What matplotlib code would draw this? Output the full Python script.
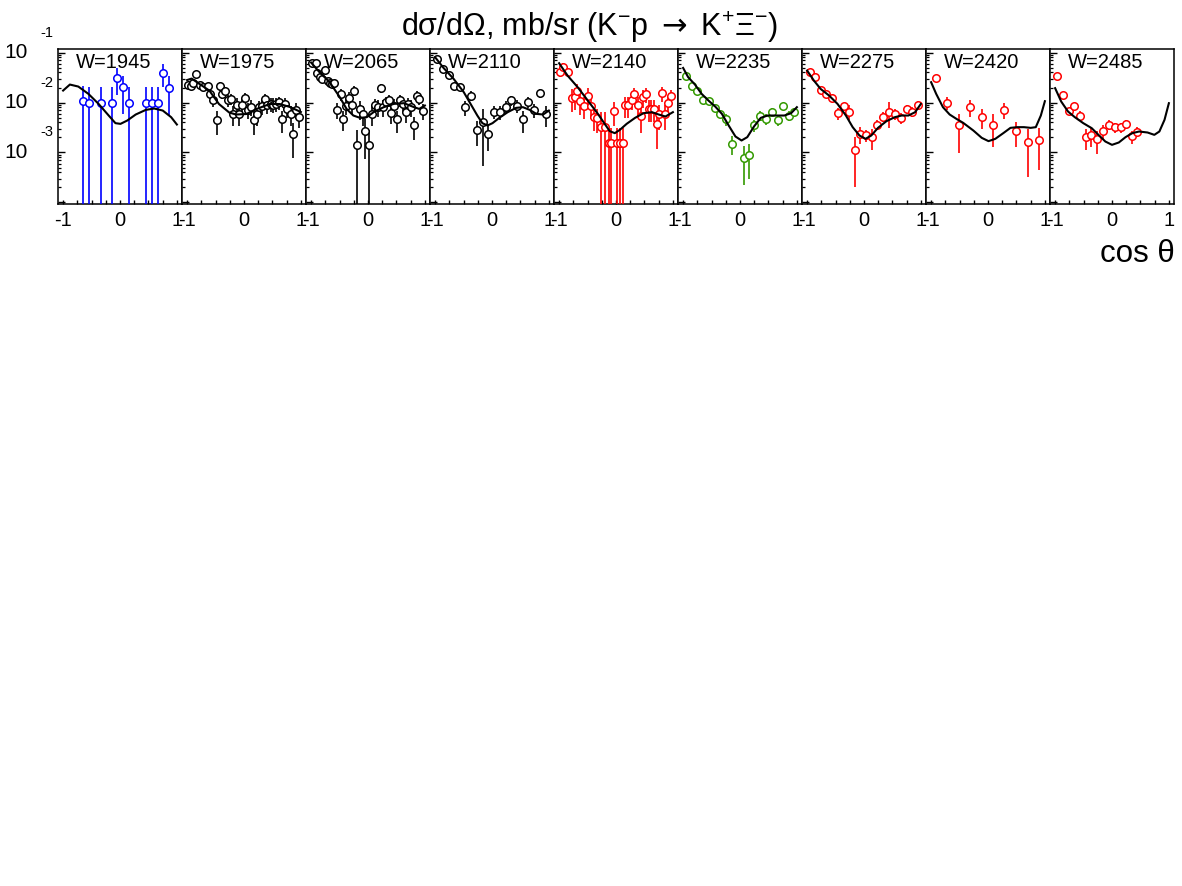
import numpy as np
import matplotlib
matplotlib.use("Agg")
import matplotlib.pyplot as plt
from matplotlib.transforms import offset_copy
from matplotlib.ticker import FixedLocator, LogLocator, NullFormatter

plt.rcParams['font.family'] = ['Liberation Sans', 'DejaVu Sans']
plt.rcParams['mathtext.fontset'] = 'custom'
plt.rcParams['mathtext.rm'] = 'Liberation Sans'
plt.rcParams['mathtext.it'] = 'Liberation Sans:italic'
plt.rcParams['mathtext.bf'] = 'Liberation Sans:bold'
plt.rcParams['mathtext.sf'] = 'DejaVu Sans'

# ---------------- data ----------------
w_labels = ['W=1945', 'W=1975', 'W=2065', 'W=2110', 'W=2140',
            'W=2235', 'W=2275', 'W=2420', 'W=2485']
colors = ['#0000ff', 'black', 'black', 'black', '#ff0000',
          '#339900', '#ff0000', '#ff0000', '#ff0000']

cos1 = [-0.65, -0.54, -0.335, -0.139, -0.045, 0.06, 0.16, 0.45, 0.56, 0.665, 0.76, 0.86]
val1 = [0.0105, 0.01, 0.01, 0.01, 0.0316, 0.0203, 0.01, 0.01, 0.01, 0.01, 0.0398, 0.0197]
err1 = [0.0106, 0.0102, 0.0102, 0.0102, 0.0175, 0.0144, 0.0102, 0.0102, 0.0102, 0.0102, 0.0195, 0.014]

cos2 = [-0.98, -0.94, -0.90, -0.84, -0.78, -0.72, -0.64, -0.60, -0.54, -0.48, -0.42, -0.38, -0.33,
        -0.28, -0.23, -0.19, -0.13, -0.08, -0.03, 0.02, 0.07, 0.12, 0.17, 0.22, 0.26, 0.32, 0.37,
        0.41, 0.47, 0.51, 0.57, 0.61, 0.67, 0.72, 0.76, 0.82, 0.87, 0.92, 0.97]
val2 = [0.0229, 0.0216, 0.0244, 0.0374, 0.0222, 0.0209, 0.0219, 0.0149, 0.0113, 0.0045, 0.0212,
        0.0149, 0.0169, 0.011, 0.0118, 0.0059, 0.0091, 0.0059, 0.009, 0.0122, 0.0071, 0.0083,
        0.0045, 0.0059, 0.0081, 0.0087, 0.0118, 0.009, 0.0094, 0.0091, 0.0094, 0.0102, 0.0047,
        0.0094, 0.0075, 0.0059, 0.00236, 0.0072, 0.0051]
err2 = [0.003, 0.003, 0.003, 0.005, 0.003, 0.003, 0.003, 0.003, 0.003, 0.0023, 0.004, 0.003, 0.003,
        0.003, 0.003, 0.0025, 0.003, 0.0025, 0.003, 0.003, 0.0025, 0.003, 0.0023, 0.0025, 0.0025,
        0.003, 0.003, 0.003, 0.003, 0.003, 0.003, 0.003, 0.0022, 0.003, 0.0025, 0.0025, 0.0016,
        0.0025, 0.002]

cos3 = [-0.98, -0.92, -0.90, -0.85, -0.80, -0.75, -0.71, -0.67, -0.63, -0.59, -0.54, -0.48, -0.44,
        -0.38, -0.33, -0.29, -0.25, -0.19, -0.14, -0.09, -0.045, 0.01, 0.07, 0.12, 0.17, 0.22, 0.26,
        0.31, 0.37, 0.41, 0.46, 0.51, 0.56, 0.61, 0.66, 0.71, 0.76, 0.81, 0.86, 0.90, 0.96]
val3 = [0.0621, 0.0621, 0.0386, 0.0321, 0.0297, 0.045, 0.0275, 0.0244, 0.0236, 0.0244, 0.0071,
        0.0149, 0.0047, 0.0087, 0.0122, 0.009, 0.0174, 0.00138, 0.0075, 0.0059, 0.00275, 0.00138,
        0.0059, 0.009, 0.0081, 0.0197, 0.0081, 0.0102, 0.011, 0.0062, 0.0087, 0.0047, 0.0113,
        0.0094, 0.0064, 0.0094, 0.0081, 0.00347, 0.0138, 0.0118, 0.0069]
err3 = [0.005, 0.005, 0.004, 0.004, 0.004, 0.006, 0.004, 0.004, 0.004, 0.004, 0.0025, 0.004, 0.002,
        0.003, 0.004, 0.003, 0.004, 0.0015, 0.003, 0.0025, 0.002, 0.0015, 0.0025, 0.003, 0.003,
        0.004, 0.003, 0.003, 0.003, 0.0025, 0.003, 0.0022, 0.003, 0.003, 0.0025, 0.003, 0.003,
        0.0017, 0.003, 0.003, 0.0025]

cos4 = [-0.97, -0.864, -0.763, -0.662, -0.567, -0.466, -0.365, -0.258, -0.157, -0.062, 0.039,
        0.145, 0.246, 0.335, 0.442, 0.543, 0.632, 0.739, 0.846, 0.941]
val4 = [0.0747, 0.0471, 0.0357, 0.0219, 0.0209, 0.0081, 0.0138, 0.00284, 0.00404, 0.00236, 0.0066,
        0.0064, 0.0083, 0.011, 0.0086, 0.0046, 0.0102, 0.0071, 0.0154, 0.0058]
err4 = [0.005, 0.004, 0.003, 0.003, 0.003, 0.0028, 0.003, 0.0015, 0.0035, 0.0013, 0.002, 0.002,
        0.0022, 0.0025, 0.0025, 0.0022, 0.0025, 0.0022, 0.003, 0.0026]

cos5 = [-0.99, -0.93, -0.84, -0.78, -0.72, -0.685, -0.626, -0.567, -0.484, -0.436, -0.389, -0.33,
        -0.27, -0.2, -0.128, -0.08, -0.039, 0.015, 0.068, 0.116, 0.157, 0.217, 0.276, 0.323, 0.383,
        0.442, 0.466, 0.525, 0.573, 0.62, 0.668, 0.72, 0.763, 0.81, 0.869, 0.917, 0.97]
val5 = [0.0404, 0.0525, 0.041, 0.0124, 0.0132, 0.0174, 0.0106, 0.0087, 0.0138, 0.0087, 0.0052,
        0.0049, 0.00321, 0.00321, 0.00156, 0.00156, 0.0069, 0.00156, 0.00156, 0.00156, 0.009,
        0.009, 0.011, 0.0149, 0.009, 0.0055, 0.0128, 0.0149, 0.0075, 0.0075, 0.0075, 0.0037,
        0.0058, 0.0154, 0.0058, 0.0097, 0.0138]
err5 = [0.008, 0.008, 0.008, 0.006, 0.006, 0.006, 0.005, 0.004, 0.006, 0.004, 0.0025, 0.0025,
        0.0033, 0.0033, 0.0016, 0.0016, 0.0035, 0.0016, 0.0016, 0.0016, 0.004, 0.004, 0.004,
        0.005, 0.004, 0.003, 0.005, 0.005, 0.0035, 0.0035, 0.0035, 0.0025, 0.003, 0.005, 0.003,
        0.004, 0.004]

cos6 = [-0.958, -0.852, -0.751, -0.644, -0.543, -0.448, -0.347, -0.246, -0.139, 0.068, 0.157,
        0.246, 0.353, 0.454, 0.56, 0.662, 0.763, 0.858, 0.958]
val6 = [0.0347, 0.0219, 0.0174, 0.0115, 0.0106, 0.0078, 0.0059, 0.0046, 0.00149, 0.00077, 0.0009,
        0.00347, 0.0055, 0.0047, 0.0066, 0.0045, 0.0085, 0.0055, 0.0064]
err6 = [0.003, 0.002, 0.0015, 0.001, 0.0012, 0.001, 0.001, 0.0012, 0.0006, 0.00055, 0.0006, 0.0009,
        0.0012, 0.0011, 0.0013, 0.0011, 0.0012, 0.0013, 0.0012]

cos7 = [-0.958, -0.864, -0.763, -0.662, -0.555, -0.454, -0.359, -0.258, -0.157, -0.062, 0.039,
        0.145, 0.234, 0.335, 0.442, 0.543, 0.644, 0.751, 0.852, 0.941]
val7 = [0.0404, 0.0321, 0.0179, 0.0149, 0.0124, 0.0061, 0.0085, 0.0066, 0.0011, 0.00236, 0.00219,
        0.00203, 0.00357, 0.0052, 0.0066, 0.0059, 0.0049, 0.0075, 0.0066, 0.009]
err7 = [0.003, 0.003, 0.002, 0.002, 0.002, 0.0016, 0.0015, 0.0022, 0.0009, 0.0009, 0.0006, 0.0009,
        0.0008, 0.0012, 0.0035, 0.0015, 0.0012, 0.0015, 0.0015, 0.0015]

cos8 = [-0.911, -0.715, -0.513, -0.312, -0.11, 0.092, 0.288, 0.496, 0.697, 0.899]
val8 = [0.0311, 0.01, 0.00347, 0.0081, 0.0052, 0.00357, 0.0072, 0.00267, 0.00163, 0.00174]
err8 = [0.002, 0.003, 0.0025, 0.003, 0.0023, 0.0023, 0.0025, 0.0014, 0.0013, 0.0013]

cos9 = [-0.964, -0.862, -0.761, -0.666, -0.564, -0.464, -0.368, -0.255, -0.161, -0.059, 0.048,
        0.15, 0.25, 0.346, 0.446]
val9 = [0.0347, 0.0143, 0.0069, 0.0087, 0.0055, 0.002, 0.0022, 0.00185, 0.0027, 0.00357, 0.00321,
        0.00321, 0.0037, 0.0021, 0.00263]
err9 = [0.002, 0.0015, 0.001, 0.0012, 0.0012, 0.0009, 0.0009, 0.0009, 0.0008, 0.0008, 0.0007,
        0.0007, 0.0008, 0.0006, 0.0006]

# model curves: cos(theta) and log10(dsigma/dOmega)
fit1_x = [-1.0, -0.881, -0.733, -0.555, -0.377, -0.199, -0.08, 0.009, 0.128, 0.276, 0.454, 0.602, 0.751, 0.899, 1.0]
fit1_lg = [-1.76, -1.64, -1.68, -1.827, -2.027, -2.26, -2.413, -2.427, -2.36, -2.24, -2.147, -2.12, -2.16, -2.293, -2.44]
fit2_x = [-1.0, -0.92, -0.78, -0.61, -0.44, -0.26, -0.14, 0.04, 0.22, 0.45, 0.63, 0.81, 1.0]
fit2_lg = [-1.55, -1.52, -1.63, -1.76, -2.03, -2.2, -2.24, -2.23, -2.13, -2.03, -2.03, -2.09, -2.19]
fit3_x = [-1.0, -0.852, -0.674, -0.496, -0.377, -0.258, -0.139, -0.021, 0.098, 0.276, 0.454, 0.632, 0.81, 0.9, 1.0]
fit3_lg = [-1.2, -1.393, -1.593, -1.893, -2.127, -2.26, -2.307, -2.293, -2.193, -2.093, -2.027, -2.013, -2.093, -2.127, -2.06]
fit4_x = [-1.0, -0.852, -0.674, -0.496, -0.377, -0.258, -0.169, -0.08, 0.009, 0.128, 0.276, 0.424, 0.543, 0.662, 0.78, 0.899, 1.0]
fit4_lg = [-1.093, -1.307, -1.527, -1.793, -2.027, -2.26, -2.413, -2.46, -2.413, -2.307, -2.193, -2.107, -2.093, -2.147, -2.227, -2.24, -2.16]
fit5_x = [-1.0, -0.852, -0.674, -0.496, -0.318, -0.199, -0.11, -0.021, 0.068, 0.187, 0.335, 0.484, 0.632, 0.751, 0.869, 1.0]
fit5_lg = [-1.213, -1.46, -1.693, -1.96, -2.227, -2.427, -2.573, -2.613, -2.547, -2.427, -2.307, -2.213, -2.193, -2.24, -2.28, -2.193]
fit6_x = [-1.0, -0.911, -0.792, -0.674, -0.555, -0.436, -0.318, -0.199, -0.08, 0.027, 0.128, 0.246, 0.365, 0.484, 0.632, 0.78, 0.899, 1.0]
fit6_lg = [-1.307, -1.493, -1.64, -1.827, -1.96, -2.08, -2.227, -2.46, -2.68, -2.76, -2.693, -2.48, -2.307, -2.26, -2.26, -2.26, -2.213, -2.093]
fit7_x = [-1.0, -0.881, -0.763, -0.614, -0.466, -0.318, -0.199, -0.08, 0.027, 0.128, 0.246, 0.395, 0.543, 0.662, 0.78, 0.899, 1.0]
fit7_lg = [-1.36, -1.56, -1.727, -1.86, -2.027, -2.26, -2.493, -2.66, -2.727, -2.66, -2.507, -2.373, -2.293, -2.26, -2.26, -2.193, -2.027]
fit8_x = [-1.0, -0.911, -0.792, -0.674, -0.555, -0.436, -0.258, -0.11, 0.009, 0.128, 0.276, 0.395, 0.513, 0.632, 0.751, 0.84, 0.929, 1.0]
fit8_lg = [-1.593, -1.827, -2.093, -2.24, -2.327, -2.407, -2.56, -2.707, -2.773, -2.727, -2.607, -2.507, -2.493, -2.493, -2.507, -2.493, -2.26, -1.973]
fit9_x = [-1.0, -0.893, -0.773, -0.654, -0.505, -0.357, -0.238, -0.118, 0.0, 0.12, 0.238, 0.357, 0.476, 0.625, 0.744, 0.833, 0.923, 1.0]
fit9_lg = [-1.712, -1.98, -2.18, -2.293, -2.413, -2.513, -2.647, -2.78, -2.847, -2.8, -2.693, -2.613, -2.58, -2.6, -2.647, -2.58, -2.347, -2.013]

x_tick_labels = ['-1', '0', '1']
y_decades = [-1, -2, -3]
title = 'd\u03c3/d\u03a9, mb/sr (K$^{-}$p $\\mathsf{\\rightarrow}$ K$^{+}$\u039e$^{-}$)'
x_title = 'cos \u03b8'

points = [(cos1, val1, err1), (cos2, val2, err2), (cos3, val3, err3), (cos4, val4, err4),
          (cos5, val5, err5), (cos6, val6, err6), (cos7, val7, err7), (cos8, val8, err8),
          (cos9, val9, err9)]
fits = [(fit1_x, fit1_lg), (fit2_x, fit2_lg), (fit3_x, fit3_lg), (fit4_x, fit4_lg),
        (fit5_x, fit5_lg), (fit6_x, fit6_lg), (fit7_x, fit7_lg), (fit8_x, fit8_lg),
        (fit9_x, fit9_lg)]

# ---------------- layout ----------------
FW, FH = 1182, 886
fig = plt.figure(figsize=(FW / 100, FH / 100), dpi=100)
L, R, TOP, BOT = 58, 1174, 49, 204
pw = (R - L) / 9.0
YMIN, YMAX = 9.3e-5, 0.118

axes = []
for i in range(9):
    ax = fig.add_axes([(L + i * pw) / FW, 1 - BOT / FH, pw / FW, (BOT - TOP) / FH])
    axes.append(ax)
    ax.set_yscale('log')
    ax.set_xlim(-1.09, 1.09)
    ax.set_ylim(YMIN, YMAX)
    for s in ax.spines.values():
        s.set_linewidth(1.1)

    cx, v, e = (np.asarray(a, dtype=float) for a in points[i])
    lo = np.where(v - e > 0, e, v - 1e-7)
    ax.errorbar(cx, v, yerr=[lo, e], fmt='o', ms=5.4, mfc='white', mec=colors[i],
                mew=1.1, ecolor=colors[i], elinewidth=1.2, capsize=0, zorder=3)
    fx, flg = fits[i]
    ax.plot(fx, 10.0 ** np.asarray(flg), color='black', lw=1.5, zorder=4)

    # ticks
    ax.xaxis.set_major_locator(FixedLocator([-1.0, 0.0, 1.0]))
    ax.xaxis.set_minor_locator(FixedLocator([-0.75, -0.5, -0.25, 0.25, 0.5, 0.75]))
    ax.set_xticklabels(x_tick_labels)
    ax.tick_params(axis='x', which='both', direction='in', length=3.0, width=1.0,
                   labelsize=14.5, pad=5, top=False)
    ax.yaxis.set_major_locator(LogLocator(base=10, numticks=10))
    ax.yaxis.set_minor_locator(LogLocator(base=10, subs=np.arange(2, 10), numticks=12))
    ax.yaxis.set_major_formatter(NullFormatter())
    ax.yaxis.set_minor_formatter(NullFormatter())
    ax.tick_params(axis='y', which='major', direction='in', length=4.8, width=1.0, right=False)
    ax.tick_params(axis='y', which='minor', direction='in', length=2.4, width=0.9, right=False)

    ax.text(0.145, 0.875, w_labels[i], transform=ax.transAxes, fontsize=14.5,
            ha='left', va='baseline')

# y-axis decade labels (ROOT style: "10" with exponent above)
ax0 = axes[0]
ytr = ax0.get_yaxis_transform()
ytr_up = offset_copy(ytr, fig=fig, x=0, y=20, units='dots')
for k in y_decades:
    ax0.text(-30 / pw, 10.0 ** k, '10', transform=ytr, ha='right', va='center', fontsize=15)
    ax0.text(-18 / pw, 10.0 ** k, str(k), transform=ytr_up, ha='left', va='center', fontsize=10.5)

fig.text(590 / FW, 1 - 36 / FH, title, ha='center', va='baseline', fontsize=22)
fig.text(1175 / FW, 1 - 262 / FH, x_title, ha='right', va='baseline', fontsize=22.5)

fig.savefig('out.png', dpi=100)
